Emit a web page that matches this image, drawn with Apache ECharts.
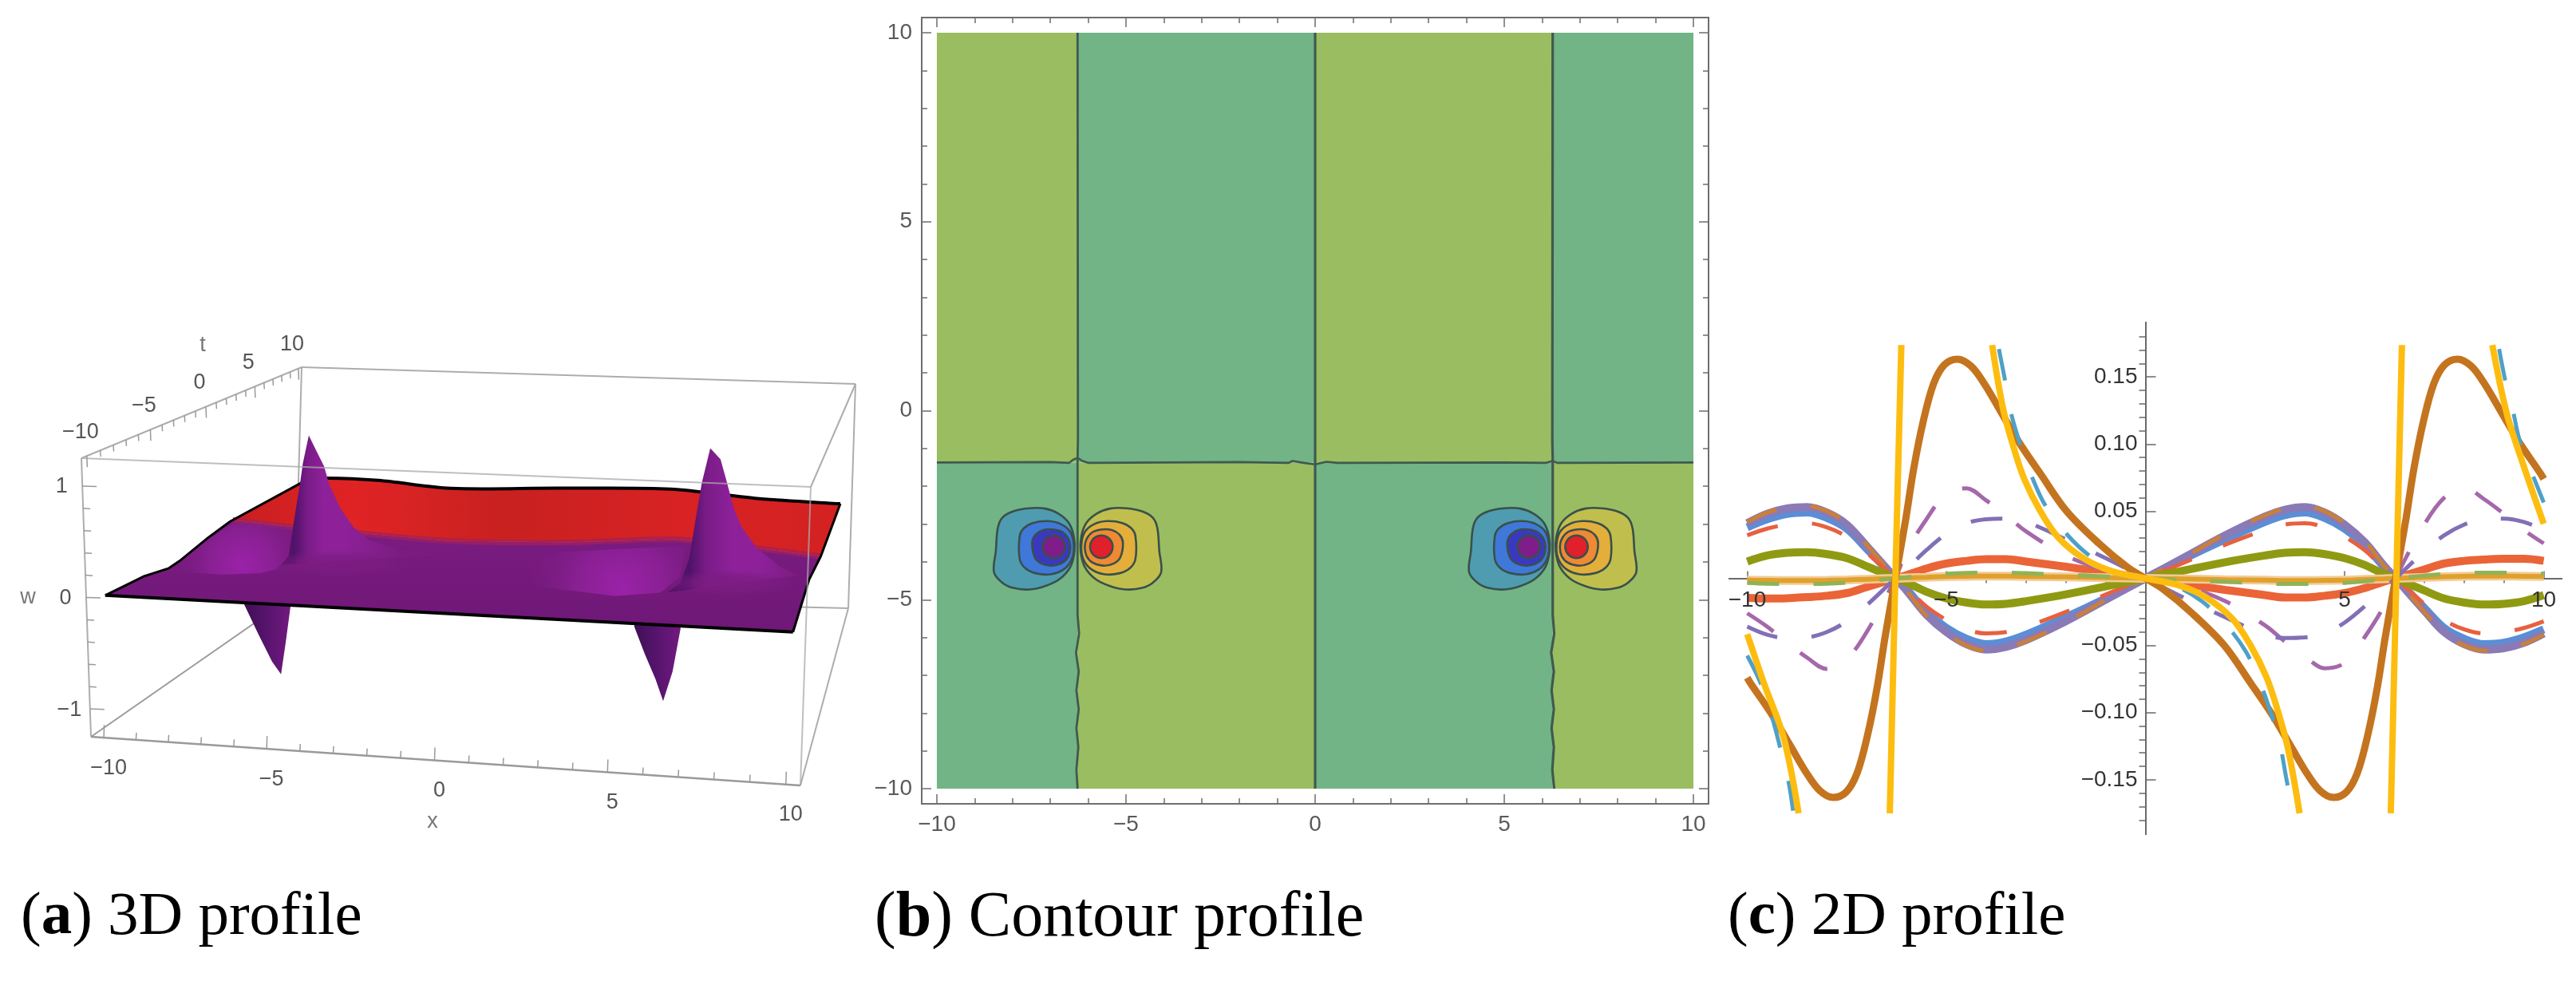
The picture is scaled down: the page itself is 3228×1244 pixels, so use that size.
<!DOCTYPE html>
<html><head><meta charset="utf-8">
<style>html,body{margin:0;padding:0;background:#fff}#c{width:3228px;height:1244px}</style>
<script src="https://cdn.jsdelivr.net/npm/echarts@6/dist/echarts.min.js"></script>
</head><body><div id="c"></div>
<script>
// ---------- panel (a): surface w(x,t) outlines: [x,t,w]
const aBackEdge=[[-10,10,.03],[-9.2,10,.06],[-7.3,10,.05],[-4.58,10,-.015],[-.56,10,.02],[3.64,10,.045],[6.8,10,-.03],[10,10,-.065]];
const aRightEdge=[[10,10,-.065],[10,.5,-.03],[10,-4.4,.07],[10,-10,0]];
const aFrontEdge=[[10,-10,0],[-10,-10,0]];
const aLeftEdge=[[-10,-10,0],[-10,-6.86,-.025],[-10,-4.76,-.08],[-10,-3.74,-.07],[-10,-1.04,0],[-10,1.2,.04],[-10,10,.03]];
const aBoundary=[[-10,1.5,.04],[-8,1.4,0],[-6,.9,0],[-2.4,.1,0],[1.5,.6,0],[4.9,1.8,0],[7,1.2,0],[10,.5,-.03]];
const aHumpL=[[-10.26,-3.6,-.185],[-8.65,-3.6,-.19],[-7.47,-3.6,-.16],[-6.96,-3.6,-.114],[-6.58,-3.6,.017],[-6.45,-3.6,.295],[-7.82,-3.6,.315],[-8.4,-3.6,.295],[-9.15,-3.6,.13],[-9.92,-3.6,-.05]];
const aHumpR=[[1.14,-3.6,-.16],[3.8,-3.6,-.22],[5.23,-3.6,-.17],[5.85,-3.6,-.01],[6.03,-3.6,.28],[2.03,-3.6,.17],[-.1,-3.6,0]];
const aSpikeUpL=[[-6.8,-3.6,-.07],[-6.58,-3.6,.017],[-6.45,-3.6,.27],[-6.33,-3.6,.5],[-6.2,-3.6,.74],[-6.12,-3.6,.91],[-5.93,-3.6,1.18],[-5.7,-3.6,1.04],[-5.45,-3.6,.89],[-5.28,-3.6,.71],[-4.93,-3.6,.49],[-4.52,-3.6,.32],[-4.01,-3.6,.2],[-3.16,-3.6,.13],[-1.9,-3.6,.09]];
const aSpikeUpR=[[5.45,-3.6,-.165],[5.86,-3.6,-.07],[6.12,-3.6,.16],[6.3,-3.6,.54],[6.46,-3.6,.87],[6.7,-3.6,1.2],[7.03,-3.6,1.1],[7.23,-3.6,.91],[7.48,-3.6,.66],[7.73,-3.6,.49],[8.24,-3.6,.29],[9,-3.6,.125],[9.6,-3.6,.05]];
const aSpikeDnL=[[-8,-3.6,-.2],[-8,-3.6,-.47],[-7.57,-3.6,-.74],[-7.13,-3.6,-1.0],[-6.84,-3.6,-1.12],[-6.68,-3.6,-.8],[-6.53,-3.6,-.47],[-6.5,-3.6,-.2]];
const aSpikeDnR=[[4.43,-3.6,-.2],[4.43,-3.6,-.5],[4.78,-3.6,-.75],[5.14,-3.6,-.98],[5.4,-3.6,-1.18],[5.68,-3.6,-.9],[5.9,-3.6,-.5],[5.9,-3.6,-.2]];
const aBaseFades=[[-5,-3.6,-.03],[7.5,-3.6,-.05]];
const aTicksX=[-10,-9,-8,-7,-6,-5,-4,-3,-2,-1,0,1,2,3,4,5,6,7,8,9,10];
const aTicksT=[-10,-9,-8,-7,-6,-5,-4,-3,-2,-1,0,1,2,3,4,5,6,7,8,9,10];
const aTicksW=[-1,-.8,-.6,-.4,-.2,0,.2,.4,.6,.8,1];
const aLabelsX=['−10','−5','0','5','10'];
const aLabelsT=['−10','−5','0','5','10'];
const aLabelsW=['−1','0','1'];

// ---------- panel (b): contour regions and level loops
const bRegions=[[-10,-6.28,-1.37,10,0],[-6.28,0,-1.37,10,1],[0,6.28,-1.37,10,0],[6.28,10,-1.37,10,1],
                [-10,-6.28,-10,-1.37,1],[-6.28,0,-10,-1.37,0],[0,6.28,-10,-1.37,1],[6.28,10,-10,-1.37,0]];
const bRegionColors=['#9abd61','#72b485'];
const bNodes=[-6.28,6.28];
const bNodeY=-3.6;
const bLoop1=[[-2.11,.49],[-1.99,.77],[-1.70,.94],[-1.28,1.02],[-.86,1.01],[-.51,.88],[-.23,.63],[-.10,.28],[-.08,-.11],[-.19,-.53],[-.47,-.85],[-.86,-1.04],[-1.28,-1.13],[-1.70,-1.09],[-1.99,-.95],[-2.21,-.67],[-2.16,-.11]];
const bLoop2=[[-1.53,.28],[-1.42,.49],[-1.18,.63],[-.79,.68],[-.44,.60],[-.19,.39],[-.10,.04],[-.15,-.32],[-.37,-.60],[-.72,-.73],[-1.11,-.70],[-1.39,-.56],[-1.53,-.32]];
const bLoop3=[[-1.20,.11],[-1.11,.32],[-.92,.44],[-.65,.46],[-.40,.39],[-.24,.21],[-.19,0],[-.24,-.25],[-.40,-.42],[-.68,-.50],[-.96,-.44],[-1.13,-.28]];
const bLoop4=[[-.33,0],[-.37,.15],[-.48,.26],[-.63,.30],[-.78,.26],[-.89,.15],[-.93,0],[-.89,-.15],[-.78,-.26],[-.63,-.30],[-.48,-.26],[-.37,-.15]];
const bColdColors=['#4f9cb0','#3f78d8','#3b38c0','#7f1d8a'];
const bHotColors=['#c0bf4e','#e4ae3b','#ee8a33','#e0202a'];
const bLineH=[[-10,-1.37],[-7,-1.36],[-6.5,-1.38],[-6.4,-1.3],[-6.28,-1.25],[-6.15,-1.33],[-6,-1.38],[-2,-1.36],[-.7,-1.38],[-.6,-1.33],[-.3,-1.38],[0,-1.42],[.3,-1.35],[.6,-1.38],[5,-1.37],[6.1,-1.38],[6.28,-1.33],[6.4,-1.38],[10,-1.37]];
const bLineV0=[[0,10],[0,-10]];
const bLineVL=[[-6.28,10],[-6.27,-.8],[-6.28,-1.25],[-6.28,-5.4],[-6.24,-5.9],[-6.32,-6.4],[-6.25,-6.9],[-6.31,-7.4],[-6.25,-7.9],[-6.31,-8.4],[-6.26,-8.9],[-6.31,-9.5],[-6.28,-10]];
const bLineVR=[[6.28,10],[6.27,-.8],[6.28,-1.25],[6.28,-5.4],[6.32,-5.9],[6.24,-6.4],[6.31,-6.9],[6.25,-7.4],[6.31,-7.9],[6.25,-8.4],[6.31,-8.9],[6.27,-9.5],[6.32,-10]];
const bMajor=[-10,-5,0,5,10];
const bMinor=[-9,-8,-7,-6,-4,-3,-2,-1,1,2,3,4,6,7,8,9];

// ---------- panel (c): curve values
const xs=[-10,-9.5,-9,-8.5,-8,-7.5,-7,-6.28,-6,-5.5,-5,-4.5,-4,-3.5,-3,-2,-1,0,1,2,3,3.5,4,4.5,5,5.5,6,6.28,7,7.5,8,8.5,9,9.5,10];
const thickBlue=[.038,.044,.048,.049,.045,.037,.022,0,-.008,-.025,-.037,-.045,-.049,-.047,-.042,-.029,-.015,0,.015,.029,.042,.047,.049,.045,.037,.025,.008,0,-.022,-.037,-.045,-.049,-.048,-.044,-.038];
const thickPurple=[.041,.048,.052,.053,.049,.040,.024,0,-.009,-.027,-.040,-.049,-.053,-.051,-.046,-.032,-.016,0,.016,.032,.046,.051,.053,.049,.040,.027,.009,0,-.024,-.040,-.049,-.053,-.052,-.048,-.041];
const brownDash=[.042,.049,.053,.054,.050,.041,.025,0,-.009,-.028,-.041,-.050,-.054,-.052,-.047,-.033,-.016,0,.016,.033,.047,.052,.054,.050,.041,.028,.009,0,-.025,-.041,-.050,-.054,-.053,-.049,-.042];
const redDash=[.032,.037,.040,.041,.038,.031,.019,0,-.007,-.021,-.031,-.038,-.041,-.040,-.036,-.025,-.012,0,.012,.025,.036,.040,.041,.038,.031,.021,.007,0,-.019,-.031,-.038,-.041,-.040,-.037,-.032];
const olive=[.0125,.017,.019,.0195,.018,.015,.009,0,-.003,-.010,-.015,-.018,-.0195,-.019,-.017,-.012,-.006,0,.006,.012,.017,.019,.0195,.018,.015,.010,.003,0,-.009,-.015,-.018,-.0195,-.019,-.017,-.0125];
const orangeRed=[-.0145,-.015,-.0148,-.014,-.013,-.011,-.0065,0,.0024,.0073,.011,.013,.0143,.0143,.0125,.0086,.0043,0,-.0043,-.0086,-.0125,-.0143,-.0143,-.013,-.011,-.0073,-.0024,0,.0065,.011,.013,.014,.0145,.0145,.013];
const greenDash=[-.0034,-.004,-.0042,-.0042,-.004,-.0032,-.002,0,.0008,.0022,.0034,.004,.0042,.0042,.0038,.0026,.0014,0,-.0014,-.0026,-.0038,-.0042,-.0042,-.004,-.0034,-.0022,-.0008,0,.002,.0032,.004,.0042,.0042,.004,.0034];
const tanBand=[-.0014,-.0015,-.0016,-.0016,-.0015,-.0012,-.0007,0,.0003,.0008,.0014,.0015,.0016,.0016,.0014,.001,.0005,0,-.0005,-.001,-.0014,-.0016,-.0016,-.0015,-.0014,-.0008,-.0003,0,.0007,.0012,.0015,.0016,.0016,.0015,.0014];
const magentaDash=[-.026,-.036,-.048,-.059,-.0675,-.06,-.04,0,.020,.044,.063,.067,.058,.047,.035,.017,.006,0,-.006,-.017,-.035,-.047,-.058,-.067,-.063,-.044,-.020,0,.04,.06,.0675,.059,.048,.036,.026];
const violetDash=[-.036,-.042,-.0445,-.044,-.040,-.032,-.020,0,.007,.021,.033,.041,.044,.0445,.042,.029,.015,0,-.015,-.029,-.042,-.0445,-.044,-.041,-.033,-.021,-.007,0,.020,.032,.040,.044,.0445,.042,.036];
const brownThick=[[-10,-.074],[-9.92,-.078],[-9.38,-.1015],[-8.91,-.125],[-8.51,-.145],[-8.18,-.158],[-7.84,-.1632],[-7.51,-.159],[-7.24,-.145],[-6.98,-.117],[-6.74,-.0816],[-6.54,-.044],[-6.28,0],[-6.02,.044],[-5.82,.0816],[-5.58,.117],[-5.32,.145],[-5.05,.159],[-4.72,.1632],[-4.38,.158],[-4.05,.145],[-3.65,.125],[-3.18,.1015],[-2.64,.078],[-1.98,.05],[-1.17,.026],[-.44,.008],[0,0],[.44,-.008],[1.17,-.026],[1.98,-.05],[2.64,-.078],[3.18,-.1015],[3.65,-.125],[4.05,-.145],[4.38,-.158],[4.72,-.1632],[5.05,-.159],[5.32,-.145],[5.58,-.117],[5.82,-.0816],[6.02,-.044],[6.28,0],[6.54,.044],[6.74,.0816],[6.98,.117],[7.24,.145],[7.51,.159],[7.84,.1632],[8.18,.158],[8.51,.145],[8.91,.125],[9.38,.1015],[9.92,.078],[10,.074]];
const yellowThick=[[-10,-.0416],[-9.57,-.079],[-9.09,-.118],[-8.71,-.175],[null,null],[-6.42,-.175],[-6.28,0],[-6.13,.1737],[null,null],[-3.85,.1737],[-3.58,.127],[-3.31,.0974],[-3.04,.0737],[-2.64,.05],[-2.18,.03],[-1.51,.014],[-.84,.0053],[0,0],[.84,-.0053],[1.51,-.014],[2.18,-.03],[2.64,-.05],[3.04,-.0737],[3.31,-.0974],[3.58,-.127],[3.87,-.175],[null,null],[6.16,-.175],[6.3,0],[6.44,.1737],[null,null],[8.71,.1737],[9.07,.123],[9.47,.086],[10,.0406]];
const blueDash=[[-10,-.0575],[-9.65,-.079],[-9.37,-.104],[-9.17,-.1265],[-8.96,-.152],[-8.85,-.173],[null,null],[-6.4,-.172],[-6.28,0],[-6.14,.172],[null,null],[-3.68,.1707],[-3.53,.148],[-3.37,.1224],[-3.14,.0994],[-2.84,.0748],[-2.51,.054],[-1.98,.033],[-1.41,.017],[-.7,.005],[0,0],[.7,-.005],[1.41,-.017],[1.98,-.033],[2.51,-.054],[2.84,-.0748],[3.14,-.0994],[3.37,-.1224],[3.53,-.148],[3.68,-.1707],[null,null],[6.15,-.172],[6.3,0],[6.42,.172],[null,null],[8.88,.1707],[9.03,.148],[9.19,.13],[9.42,.1],[9.75,.075],[10,.0565]];
const cMajorX=[-10,-5,5,10];
const cMinorX=[-9,-8,-7,-6,-4,-3,-2,-1,1,2,3,4,6,7,8,9];
const cMajorY=[-.15,-.10,-.05,.05,.10,.15];
const cMinorY=[-.18,-.17,-.16,-.14,-.13,-.12,-.11,-.09,-.08,-.07,-.06,-.04,-.03,-.02,-.01,.01,.02,.03,.04,.06,.07,.08,.09,.11,.12,.13,.14,.16,.17,.18];

const captions=[['a',' 3D profile',21,77],['b',' Contour profile',1091,80],['c',' 2D profile',2160,77]];

// ---------- box projection of panel (a)
const box={bfl:[114,923],bfr:[1003,984],tfl:[102,574],tfr:[1016,610],bbl:[370,745],bbr:[1063,762],tbl:[378,460],tbr:[1072,481]};
const mix=(a,b,f)=>[a[0]+(b[0]-a[0])*f,a[1]+(b[1]-a[1])*f];
function P(x,t,w){
  const fx=(x+10.4)/20.8, ft=(t+10.4)/20.8, fw=(w+1.25)/2.5, s=1.3*ft/(1+.3*ft);
  const fr=mix(mix(box.bfl,box.bfr,fx),mix(box.tfl,box.tfr,fx),fw);
  const bk=mix(mix(box.bbl,box.bbr,fx),mix(box.tbl,box.tbr,fx),fw);
  return mix(fr,bk,s);
}
const fmt=v=>String(v).replace('-','−');
const G=echarts.graphic;
const stopsOf=s=>s.map(a=>({offset:a[0],color:a[1]}));
const hGrad=s=>new G.LinearGradient(0,0,1,0,stopsOf(s));
const vGrad=s=>new G.LinearGradient(0,0,0,1,stopsOf(s));
const rGrad=(x,y,r,s)=>new G.RadialGradient(x,y,r,stopsOf(s));
const P3=a=>a.map(p=>P(p[0],p[1],p[2]));
const boxLine='#adadad';
const seg=(a,b,stroke,w,op)=>({k:'line',pts:[a,b],stroke:stroke||boxLine,w:w||2,op:op==null?1:op});
const atX=-10.4;
const layersA=[];
layersA.push(seg(box.tbl,box.tbr),seg(box.tbl,box.bbl),seg(box.tbr,box.bbr),seg(box.bbl,box.bbr),seg(box.bfl,box.bbl,'#9a9a9a'),seg(box.bfr,box.bbr),seg(box.tfr,box.tbr),seg(box.tfl,box.tbl));
layersA.push({k:'poly',pts:P3(aSpikeDnL),fill:hGrad([[0,'#3f0f55'],[.55,'#5a1570'],[1,'#74197f']])});
layersA.push({k:'poly',pts:P3(aSpikeDnR),fill:hGrad([[0,'#3f0f55'],[.55,'#5a1570'],[1,'#74197f']])});
layersA.push({k:'poly',pts:P3([...aBackEdge,...aBoundary.slice().reverse()]),fill:hGrad([[0,'#c81f20'],[.2,'#e02325'],[.45,'#c82120'],[.75,'#d92224'],[1,'#d32122']])});
layersA.push({k:'poly',pts:P3([...aBoundary,...aRightEdge.slice(2),...aFrontEdge.slice(1),...aLeftEdge.slice(1,6)]),fill:vGrad([[0,'#7c1c82'],[1,'#6e1877']])});
layersA.push({k:'stroke',pts:P3(aBoundary),stroke:'#a3205a',w:7,op:.75,smooth:.3});
const humpStops=[[0,'#9a22a8'],[.45,'#8a2094'],[1,'rgba(124,28,130,0)']];
layersA.push({k:'poly',pts:P3(aHumpL),fill:rGrad(.58,.8,1.35,humpStops)});
layersA.push({k:'poly',pts:P3(aHumpR),fill:rGrad(.667,.865,1.9,humpStops)});
layersA.push({k:'stroke',pts:P3(aBackEdge),stroke:'#000',w:4,smooth:.3},{k:'stroke',pts:P3(aFrontEdge),stroke:'#000',w:4},{k:'stroke',pts:P3(aRightEdge),stroke:'#000',w:3},{k:'stroke',pts:P3(aLeftEdge),stroke:'#000',w:3});
layersA.push({k:'poly',pts:P3(aSpikeUpL),fill:hGrad([[0,'#5a1468'],[.08,'#50126a'],[.17,'#7a1c88'],[.27,'#8e219a'],[.4,'#8e219a'],[.57,'#851f8e'],[.76,'#7c1c82'],[1,'#7a1b80']])});
layersA.push({k:'poly',pts:P3(aSpikeUpR),fill:hGrad([[0,'#5a1468'],[.17,'#4f1268'],[.3,'#7a1c88'],[.5,'#8e219a'],[.7,'#8e219a'],[1,'#7a1c80']])});
aBaseFades.forEach(h=>layersA.push({k:'glow',p:P(h[0],h[1],h[2]),r:85,sy:.2,c:['rgba(124,28,130,.9)','rgba(124,28,130,.7)','rgba(124,28,130,0)']}));
layersA.push(seg(box.tfl,box.tfr,'#a9a9a9',2,.75),seg(box.tfl,box.bfl),seg(box.tfr,box.bfr,'#a9a9a9',2,.75),seg(box.bfl,box.bfr,'#9a9a9a',2.5));
const xSkew=f=>f/(1.065-.065*f);
const bEdge=f=>mix(box.bfl,box.bfr,xSkew(f));
aTicksX.forEach(x=>{const p=bEdge((x+10.4)/20.8),L=x%5===0?16:9;layersA.push(seg(p,[p[0]+.5,p[1]-L],'#9a9a9a',1.5));});
aTicksT.forEach(t=>{const p=P(atX,t,1.25),L=t%5===0?14:8;layersA.push(seg(p,[p[0]+.5,p[1]+L],'#9a9a9a',1.5));});
aTicksW.forEach(w=>{const p=mix(box.bfl,box.tfl,(w+1.25)/2.5),L=(w%1===0)?18:9;layersA.push(seg(p,[p[0]+L,p[1]+.6],'#9a9a9a',1.5));});
const lab=(t,p,col)=>({k:'text',t,p,col:col||'#555'});
[-10,-5,0,5,10].forEach((x,i)=>{const p=bEdge((x+10.4)/20.8);layersA.push(lab(aLabelsX[i],[p[0]+6,p[1]+38]));});
[-10,-5,0,5,10].forEach((t,i)=>{const p=P(atX,t,1.25);layersA.push(lab(aLabelsT[i],[p[0]-8,p[1]-30]));});
[-1,0,1].forEach((w,i)=>{const p=mix(box.bfl,box.tfl,(w+1.25)/2.5);layersA.push(lab(aLabelsW[i],[p[0]-26,p[1]+1]));});
layersA.push(lab('t',[254,433],'#777'),lab('w',[35,749],'#777'),lab('x',[542,1030],'#777'));

function renderA(params,api){
  const L=layersA[params.dataIndex];
  const cp=p=>api.coord(p);
  if(L.k==='poly')return{type:'polygon',shape:{points:L.pts.map(cp),smooth:L.smooth||0},style:{fill:L.fill}};
  if(L.k==='line'||L.k==='stroke')return{type:'polyline',shape:{points:L.pts.map(cp),smooth:L.smooth||0},style:{fill:null,stroke:L.stroke,lineWidth:L.w,opacity:L.op==null?1:L.op}};
  if(L.k==='glow'){const c=cp(L.p);return{type:'circle',x:c[0],y:c[1],scaleX:1,scaleY:L.sy,shape:{cx:0,cy:0,r:L.r},style:{fill:rGrad(.5,.5,.5,[[0,L.c[0]],[.55,L.c[1]],[1,L.c[2]]])}};}
  if(L.k==='text'){const c=cp(L.p);return{type:'text',style:{text:L.t,x:c[0],y:c[1],fill:L.col,font:'27px "Liberation Sans"',textAlign:'center',textVerticalAlign:'middle'}};}
}

const layersB=[];
bRegions.forEach(r=>layersB.push({pts:[[r[0],r[2]],[r[1],r[2]],[r[1],r[3]],[r[0],r[3]]],fill:bRegionColors[r[4]]}));
bNodes.forEach(nx=>{
  [bLoop1,bLoop2,bLoop3,bLoop4].forEach((l,i)=>{
    layersB.push({pts:l.map(p=>[nx+p[0],bNodeY+p[1]]),fill:bColdColors[i],line:1});
    layersB.push({pts:l.map(p=>[nx-p[0],bNodeY+p[1]]),fill:bHotColors[i],line:1});
  });
});
function renderB(params,api){
  const L=layersB[params.dataIndex];
  return{type:'polygon',shape:{points:L.pts.map(p=>api.coord(p)),smooth:L.line?.35:0},style:L.line?{fill:L.fill,stroke:'#39504c',lineWidth:2.6}:{fill:L.fill}};
}

const cLabels=[...cMajorX.map(v=>({v:[v,0],t:fmt(v),dx:0,dy:28,a:'center'})),...cMajorY.map(v=>({v:[0,v],t:fmt(v.toFixed(2)),dx:-10,dy:0,a:'right'}))];
function renderCLabels(params,api){
  const L=cLabels[params.dataIndex],c=api.coord(L.v);
  return{type:'text',style:{text:L.t,x:c[0]+L.dx,y:c[1]+L.dy,fill:'#333',font:'28px "Liberation Sans"',textAlign:L.a,textVerticalAlign:'middle'}};
}

const gridA={left:0,top:0,width:1090,height:1244,show:false};
const gridB={left:1155,top:22,width:986,height:985};
const gridC={left:2167,top:404,width:1043,height:641};
const axisCol='#6e6e6e';
const font='"Liberation Sans"';
const bAxis=(pos,vals,len,labels)=>({gridIndex:1,type:'value',min:-10.4,max:10.4,position:pos,splitLine:{show:false},
  axisLine:{onZero:false,lineStyle:{color:axisCol,width:2}},axisTick:{inside:true,length:len,customValues:vals,lineStyle:{color:axisCol,width:1.5}},
  axisLabel:labels?{customValues:vals,color:'#5a5a5a',fontSize:28,fontFamily:font,margin:12,formatter:fmt}:{show:false}});
const cAxisX=(vals,len)=>({gridIndex:2,type:'value',min:-10.45,max:10.45,splitLine:{show:false},
  axisLine:{onZero:true,onZeroAxisIndex:5,lineStyle:{color:'#6a6a6a',width:2}},axisTick:{inside:true,length:len,customValues:vals,lineStyle:{color:'#6a6a6a',width:1.5}},
  axisLabel:{show:false}});
const cAxisY=(vals,len)=>({gridIndex:2,type:'value',min:-.1905,max:.1905,splitLine:{show:false},
  axisLine:{onZero:true,onZeroAxisIndex:5,lineStyle:{color:'#6a6a6a',width:2}},axisTick:{inside:true,length:len,customValues:vals,lineStyle:{color:'#6a6a6a',width:1.5}},
  axisLabel:{show:false}});
const line=(xi,yi,data,color,width,dash,smooth)=>({type:'line',xAxisIndex:xi,yAxisIndex:yi,data,showSymbol:false,symbol:'none',smooth:smooth==null?0:smooth,connectNulls:false,clip:false,
  lineStyle:{color,width,type:dash||'solid',cap:'butt'},z:3,silent:true});
const onXs=v=>xs.map((x,i)=>[x,v[i]]);
const S=.35, D=[40,43];
const hide=(g,min,max,inv)=>({gridIndex:g,type:'value',min,max,inverse:!!inv,show:false});

const option={
  animation:false,backgroundColor:'#fff',
  grid:[gridA,gridB,gridC],
  title:captions.map(c=>({left:c[2],top:1106,text:'{p|(}{b|'+c[0]+'}{p|)'+c[1]+'}',textStyle:{fontWeight:'normal',rich:{
    p:{fontFamily:'Liberation Serif',fontSize:c[3],fontWeight:'normal',color:'#000'},b:{fontFamily:'Liberation Serif',fontSize:c[3],fontWeight:'bold',color:'#000'}}}})),
  xAxis:[hide(0,0,1090),bAxis('bottom',bMajor,12,true),bAxis('top',bMajor,12,false),bAxis('bottom',bMinor,7,false),bAxis('top',bMinor,7,false),cAxisX(cMajorX,9),cAxisX(cMinorX,6)],
  yAxis:[hide(0,0,1244,true),bAxis('left',bMajor,12,true),bAxis('right',bMajor,12,false),bAxis('left',bMinor,7,false),bAxis('right',bMinor,7,false),cAxisY(cMajorY,13),cAxisY(cMinorY,8)],
  series:[
    {type:'custom',xAxisIndex:0,yAxisIndex:0,coordinateSystem:'cartesian2d',renderItem:renderA,data:layersA.map(()=>[0,0]),clip:false,silent:true},
    {type:'custom',xAxisIndex:1,yAxisIndex:1,coordinateSystem:'cartesian2d',renderItem:renderB,data:layersB.map(()=>[0,0]),clip:false,silent:true,z:2},
    line(1,1,bLineH,'#3f5a50',2.6),line(1,1,bLineV0,'#3f5a50',3.2),line(1,1,bLineVL,'#3f5a50',2.8),line(1,1,bLineVR,'#3f5a50',3.2),
    line(5,5,onXs(thickBlue),'#5b8ed6',10,null,S),
    line(5,5,onXs(thickPurple),'#8a7ab6',10,null,S),
    line(5,5,onXs(brownDash),'#c9803a',5,D,S),
    line(5,5,onXs(redDash),'#e8603f',5,D,S),
    line(5,5,onXs(olive),'#8f9a12',10,null,S),
    line(5,5,onXs(orangeRed),'#ea6437',10,null,S),
    line(5,5,onXs(tanBand),'#f3cb98',11,null,S),
    line(5,5,onXs(tanBand),'#dfa12b',6,null,S),
    line(5,5,onXs(greenDash),'#8fb356',5,D,S),
    line(5,5,onXs(magentaDash),'#a568aa',5,D,S),
    line(5,5,onXs(violetDash),'#8270b6',5,D,S),
    line(5,5,brownThick,'#c4741f',9,null,S),
    line(5,5,blueDash,'#4fa0c8',5,D,S),
    line(5,5,yellowThick,'#fdbd10',8,null,S),
    {type:'custom',xAxisIndex:5,yAxisIndex:5,coordinateSystem:'cartesian2d',renderItem:renderCLabels,data:cLabels.map(()=>[0,0]),clip:false,silent:true,z:6}
  ]
};
const chart=echarts.init(document.getElementById('c'),null,{renderer:'canvas'});
chart.setOption(option);
</script></body></html>
